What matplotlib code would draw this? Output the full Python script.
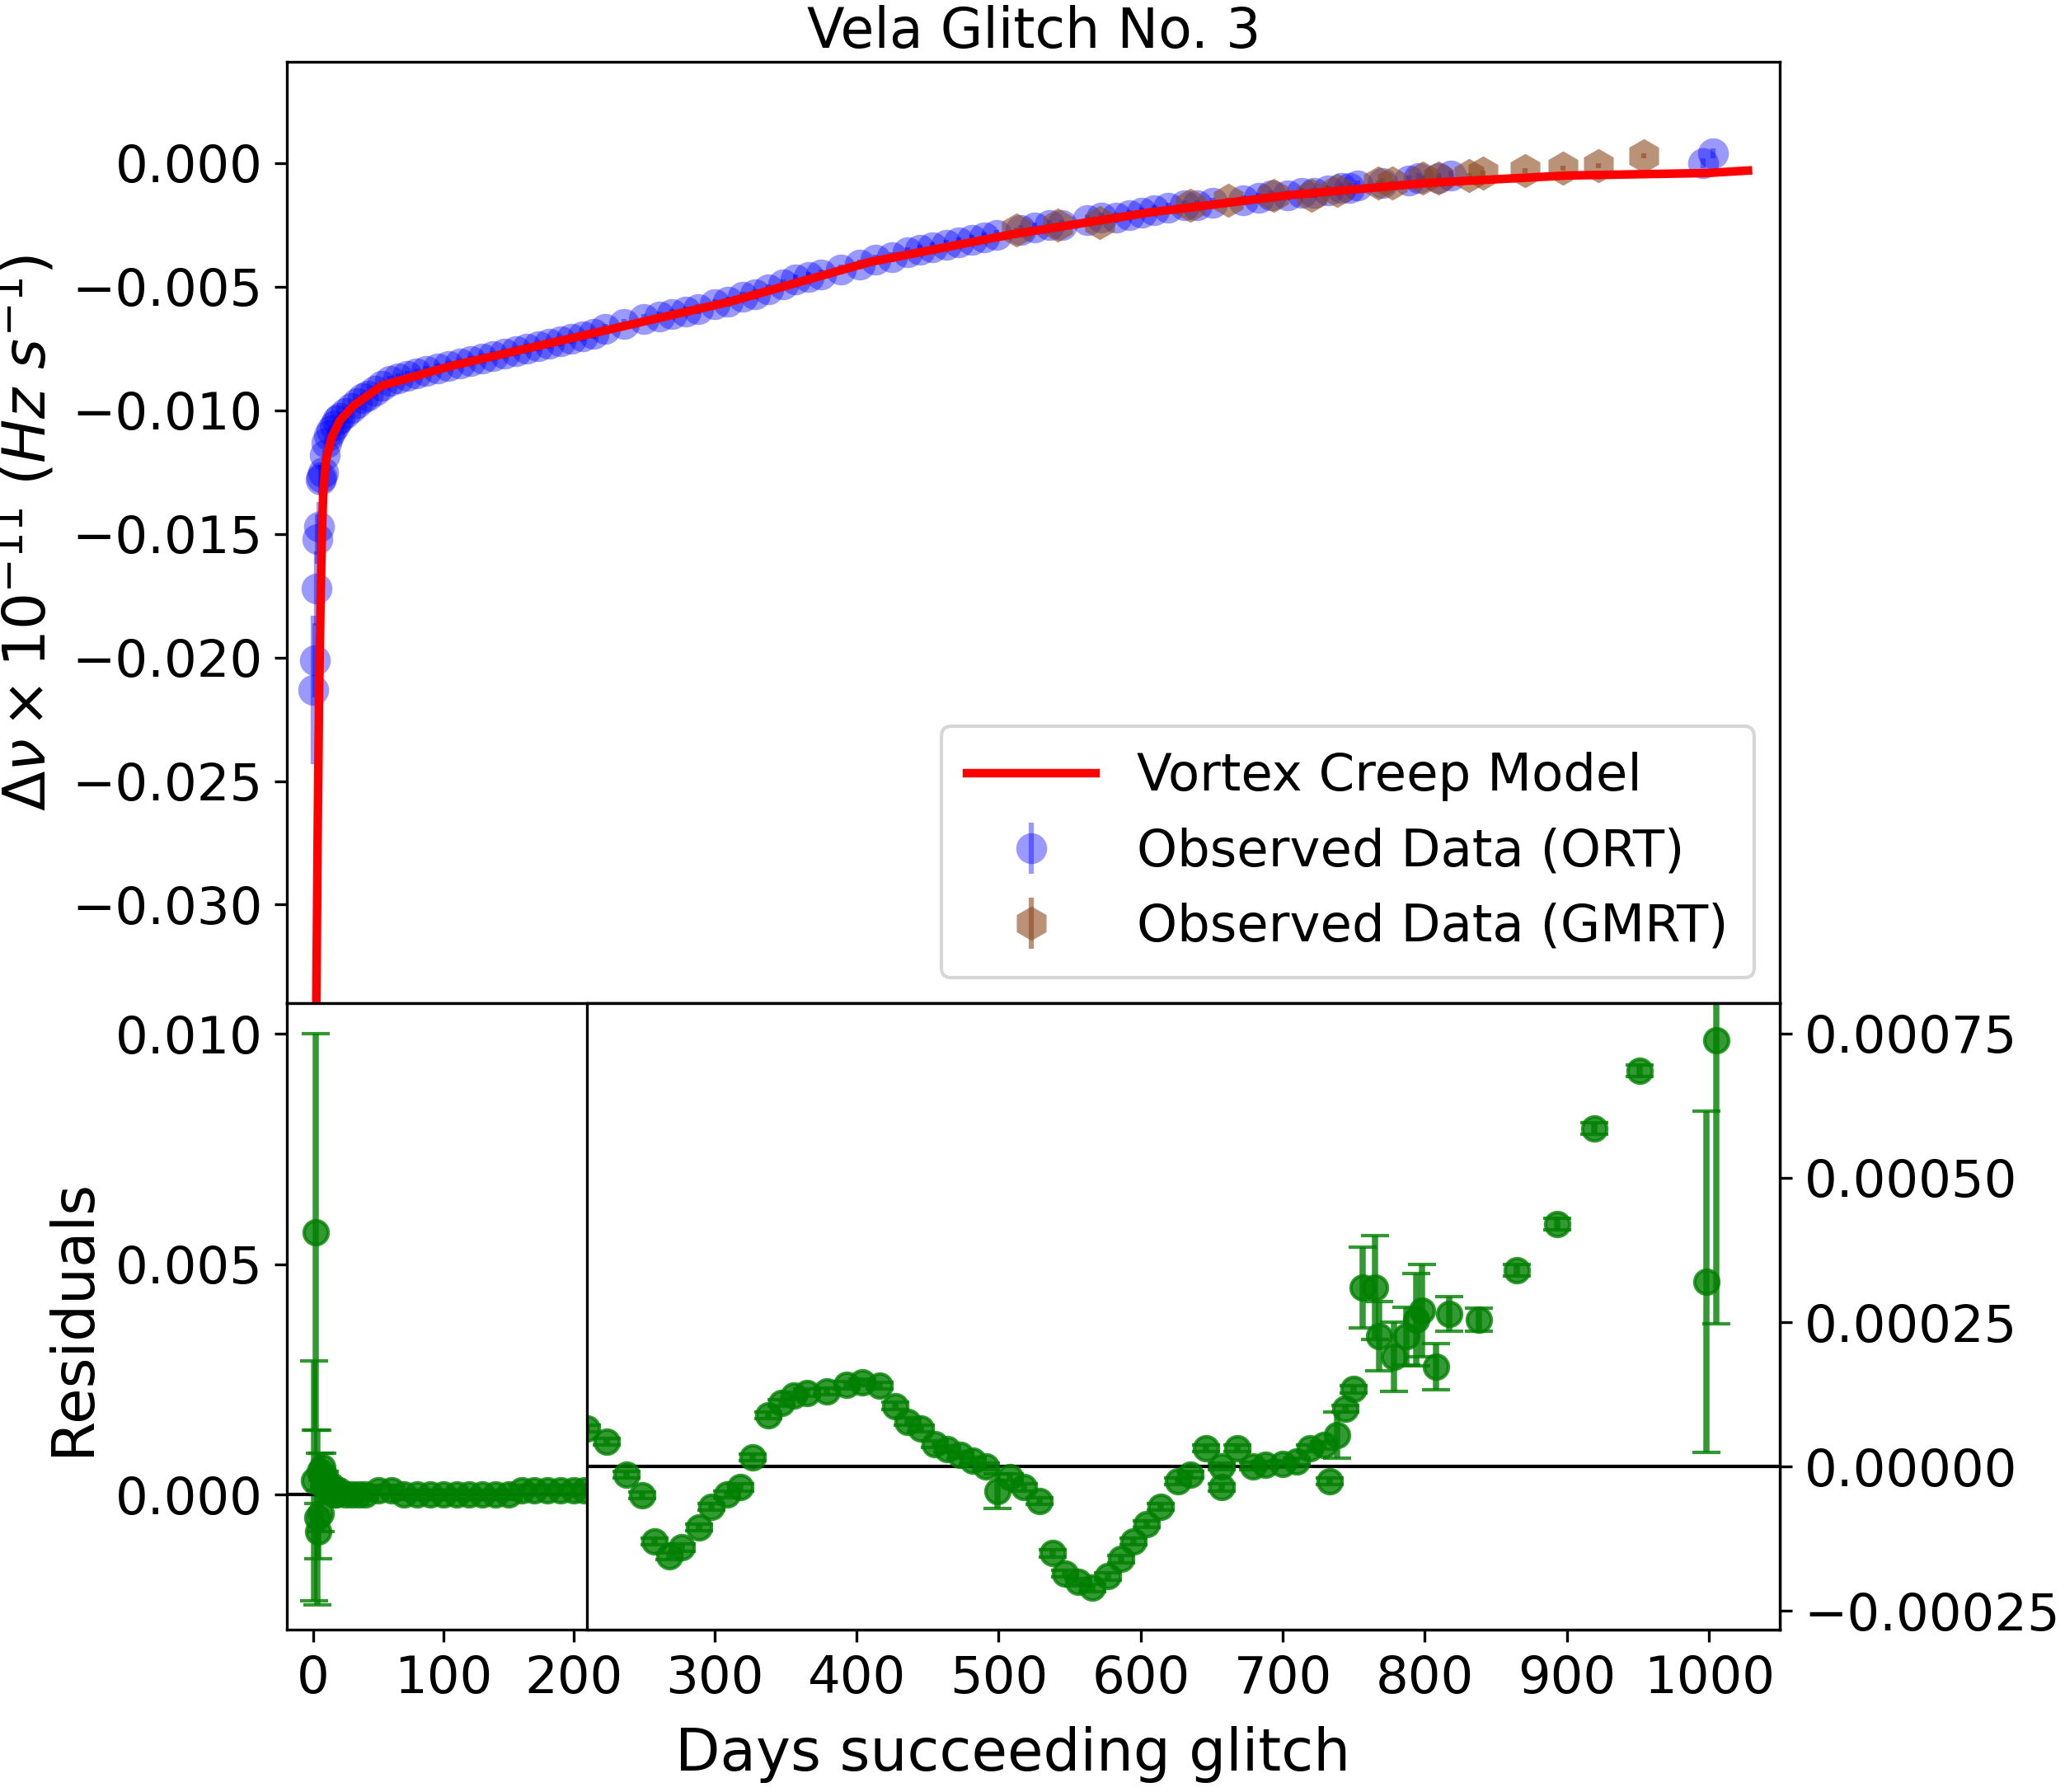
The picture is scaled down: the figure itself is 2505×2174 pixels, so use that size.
import matplotlib.pyplot as plt

# top panel: observed data and model
ort_days = [1, 2, 3, 4, 5, 6, 7, 8, 9, 10, 12, 14, 16, 18, 20, 24, 28, 32, 36, 40, 45, 50, 56, 62, 68,
            75, 82, 90, 98, 106, 114, 122, 130, 138, 146, 154, 162, 170, 178, 186, 194, 202, 210, 224,
            238, 249, 258, 268, 277, 289, 298, 309, 318, 327, 338, 347, 356, 365, 379, 393, 404, 416,
            427, 436, 445, 455, 464, 473, 482, 491, 508, 518, 529, 538, 556, 566, 577, 586, 595, 604,
            614, 626, 635, 646, 668, 679, 688, 700, 710, 719, 729, 738, 744, 750, 768, 787, 794, 808,
            817, 998, 1005]
ort_vals = [-0.0213, -0.0201, -0.0172, -0.0152, -0.0147, -0.0128, -0.0127, -0.0125, -0.0118, -0.0113,
            -0.0110, -0.0108, -0.0106, -0.0104, -0.0103, -0.0101, -0.0099, -0.0097, -0.0095, -0.0094,
            -0.0092, -0.0090, -0.0088, -0.0087, -0.0086, -0.0085, -0.0084, -0.0083, -0.0082, -0.0081,
            -0.0080, -0.0079, -0.0078, -0.0077, -0.0076, -0.0075, -0.0074, -0.0073, -0.0072, -0.0071,
            -0.0070, -0.0069, -0.0067, -0.0065, -0.0063, -0.0062, -0.0061, -0.0060, -0.0059, -0.0057,
            -0.0056, -0.0054, -0.0053, -0.0051, -0.0049, -0.0047, -0.0046, -0.0045, -0.0043, -0.0041,
            -0.0039, -0.0038, -0.0036, -0.0035, -0.0034, -0.0033, -0.0032, -0.0031, -0.0030, -0.0029,
            -0.0027, -0.0026, -0.0025, -0.0025, -0.0023, -0.0022, -0.0022, -0.0021, -0.0020, -0.0019,
            -0.0018, -0.0017, -0.0017, -0.0016, -0.0015, -0.0014, -0.0013, -0.0013, -0.0012, -0.0012,
            -0.0011, -0.0010, -0.0010, -0.0009, -0.0008, -0.0007, -0.0006, -0.0006, -0.0005, 0.0000,
            0.0004]
ort_errs = [0.0030, 0.0015, 0.0015, 0.0010, 0.0010, 0.0006, 0.0005, 0.0004] + [0.0002] * 93

gmrt_days = [505, 535, 565, 630, 657, 690, 717, 735, 765, 775, 797, 808, 830, 840, 870, 897, 923, 955]
gmrt_vals = [-0.0027, -0.0025, -0.0024, -0.0017, -0.0015, -0.0013, -0.0013, -0.0011, -0.0008,
             -0.0008, -0.0006, -0.0006, -0.0005, -0.0004, -0.0003, -0.0002, -0.0001, 0.0003]
gmrt_errs = [0.0001] * 18

model_days = [3, 4, 5, 6, 7, 8, 10, 14, 20, 30, 50, 100, 200, 300, 400, 500, 600, 700, 800, 900, 1000, 1030]
model_vals = [-0.034, -0.027, -0.0215, -0.018, -0.015, -0.0133, -0.0120, -0.0111, -0.0104, -0.0098,
              -0.0090, -0.0082, -0.0069, -0.0056, -0.0040, -0.0029, -0.0020, -0.0013, -0.0008,
              -0.0005, -0.0004, -0.0003]

# residuals, early part (left axis)
res_early_days = [1, 2, 3, 4, 5, 6, 7, 8, 9, 10, 12, 14, 16, 18, 20, 25, 30, 35, 40, 50, 60, 70, 80,
                  90, 100, 110, 120, 130, 140, 150, 160, 170, 180, 190, 200, 208]
res_early_vals = [0.0003, 0.0057, -0.0005, -0.0008, 0.0005, -0.0004, 0.0006, 0.0002, 0.0004, 0.0002,
                  0.0001, 0.0002, 0.0000, 0.0000, 0.0001, 0.0000, 0.0000, 0.0000, 0.0000, 0.0001,
                  0.0001, 0.0000, 0.0000, 0.0000, 0.0000, 0.0000, 0.0000, 0.0000, 0.0000, 0.0000,
                  0.0001, 0.0001, 0.0001, 0.0001, 0.0001, 0.0001]
res_early_errs = [0.0026, 0.0043, 0.0019, 0.0006, 0.0004, 0.0004, 0.0003, 0.0002] + [0.0001] * 28

# residuals, later part (right axis)
res_late_days = [210, 224, 238, 249, 258, 268, 277, 289, 298, 309, 318, 327, 338, 347, 356, 365, 379,
                 393, 404, 416, 427, 436, 445, 455, 464, 473, 482, 491, 499, 508, 518, 529, 538, 547,
                 556, 566, 577, 586, 595, 604, 614, 626, 635, 646, 657, 657, 668, 679, 688, 700, 710,
                 719, 729, 733, 738, 744, 750, 756, 765, 768, 778, 787, 794, 798, 808, 817, 838, 865,
                 893, 919, 951, 998, 1005]
res_late_vals = [0.000066, 0.000043, -0.000014, -0.00005, -0.00013, -0.000155, -0.00014, -0.000105,
                 -0.00007, -0.000048, -0.000036, 0.000016, 0.000089, 0.00011, 0.000123, 0.000128,
                 0.00013, 0.000141, 0.000146, 0.00014, 0.000105, 0.000078, 0.000066, 0.000039,
                 0.00003, 0.00002, 0.00001, 0.0, -0.000043, -0.000018, -0.000036, -0.00006, -0.00015,
                 -0.000185, -0.0002, -0.00021, -0.00019, -0.00016, -0.00013, -0.0001, -0.00007,
                 -0.000025, -0.000014, 0.000032, -0.000036, 0.0, 0.000032, 0.000001, 0.000003,
                 0.000005, 0.000009, 0.000032, 0.000037, -0.000025, 0.000055, 0.0001, 0.000134,
                 0.00031, 0.00031, 0.000226, 0.00019, 0.000226, 0.000255, 0.00027, 0.000173,
                 0.000264, 0.000255, 0.00034, 0.00042, 0.000586, 0.000686, 0.00032, 0.000738]
res_late_errs = [0.000006] * 28 + [0.00003, 0.000006, 0.000006, 0.000006, 0.000006, 0.000006] + \
                [0.000006] * 20 + [0.00004, 0.000006, 0.000006, 0.00007, 0.00009, 0.00006, 0.00006,
                0.00005, 0.00008, 0.00008, 0.00004, 0.00003, 0.00002, 0.00001, 0.00001, 0.00001,
                0.00001, 0.000295, 0.00049]

W, H = 2505 / 300, 2174 / 300
plt.rcParams['font.size'] = 15
fig = plt.figure(figsize=(W, H), dpi=300)

L, R = 0.139, 0.862
ax_top = fig.add_axes([L, 0.440, R - L, 0.9655 - 0.440])
ax_bot = fig.add_axes([L, 0.0904, R - L, 0.440 - 0.0904])

ax_top.plot(model_days, model_vals, color="red", lw=2.5, label="Vortex Creep Model", zorder=3)
ax_top.errorbar(ort_days, ort_vals, yerr=ort_errs, fmt="o", color="blue", alpha=0.4, ms=9,
                mew=0, capsize=4, label="Observed Data (ORT)", zorder=2)
ax_top.errorbar(gmrt_days, gmrt_vals, yerr=gmrt_errs, fmt="h", color="#8c4a1e", alpha=0.6, ms=10,
                mew=0, capsize=4, label="Observed Data (GMRT)", zorder=2)
ax_top.set_xlim(-18, 1053)
ax_top.set_ylim(-0.034, 0.0041)
ax_top.set_xticks([])
ax_top.set_yticks([0.0, -0.005, -0.010, -0.015, -0.020, -0.025, -0.030])
ax_top.set_ylabel(r"$\Delta\dot{\nu} \times 10^{-11}$ $(Hz\ s^{-1})$", fontsize=17)
ax_top.set_title("Vela Glitch No. 3", fontsize=16, pad=4)
ax_top.legend(loc="lower right", fontsize=15, borderpad=0.5, handlelength=2.5)

ax_bot.errorbar(res_early_days, res_early_vals, yerr=res_early_errs, fmt="o", color="green",
                alpha=0.8, ms=7, capsize=4, lw=1.8)
ax_bot.axhline(0, color="black", lw=1)
ax_bot.set_xlim(-20, 1126)
ax_bot.set_ylim(-0.00294, 0.01066)
ax_bot.set_xticks([0, 100, 200])
ax_bot.set_yticks([0.0, 0.005, 0.010])
ax_bot.set_ylabel("Residuals", fontsize=17)

# later residuals on their own axes with a right-hand scale
x0 = L + (R - L) * (210 + 20) / 1146
ax_in = fig.add_axes([x0, 0.0904, R - x0, 0.440 - 0.0904])
ax_in.errorbar(res_late_days, res_late_vals, yerr=res_late_errs, fmt="o", color="green",
               alpha=0.8, ms=7, capsize=4, lw=1.8)
ax_in.axhline(0, color="black", lw=1)
ax_in.set_xlim(210, 1050)
ax_in.set_ylim(-0.000283, 0.000802)
ax_in.set_xticks([300, 400, 500, 600, 700, 800, 900, 1000])
ax_in.yaxis.tick_right()
ax_in.set_yticks([-0.00025, 0.0, 0.00025, 0.0005, 0.00075])
ax_in.set_yticklabels(["\u22120.00025", "0.00000", "0.00025", "0.00050", "0.00075"])

fig.text((L + R) / 2 - 0.01, 0.005, "Days succeeding glitch", ha="center", va="bottom", fontsize=17)

fig.savefig("out.png", dpi=300)
